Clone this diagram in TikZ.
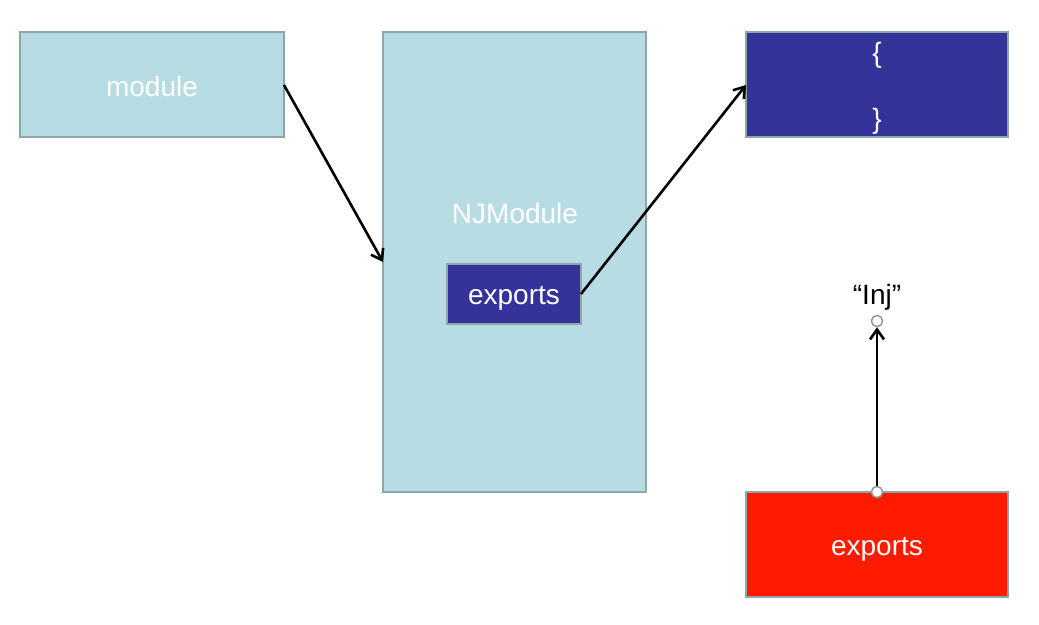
\documentclass[tikz,border=0pt]{standalone}
\usepackage{fontspec}
\setmainfont{Liberation Sans}
\usetikzlibrary{arrows.meta}
\definecolor{lblue}{HTML}{B8DCE3}
\definecolor{dblue}{HTML}{333399}
\definecolor{redc}{HTML}{FF1A00}
\definecolor{edgec}{HTML}{8EA5AC}
\tikzset{
  boxbase/.style={draw=edgec, line width=2pt, inner sep=0pt, outer sep=0pt},
  lightbox/.style={boxbase, fill=lblue},
  darkbox/.style={boxbase, fill=dblue},
  redbox/.style={boxbase, fill=redc},
  conn/.style={draw=black, line width=2.6pt, -{Straight Barb[length=10pt,width=14pt,line width=2.6pt]}},
  dot/.style={circle, draw=gray!80, fill=white, line width=1.4pt, minimum size=11pt, inner sep=0pt},
  lbl/.style={font=\fontsize{28}{32}\selectfont, inner sep=0pt}
}
\begin{document}
\begin{tikzpicture}[x=1pt,y=-1pt]
\useasboundingbox (0,0) rectangle (1039,624);
\node[lightbox, minimum width=264pt, minimum height=105pt] (module) at (152,84.5) {};
\node[lbl, text=white] (modlabel) at (152,86) {module};
\node[lightbox, minimum width=263pt, minimum height=460pt] (nj) at (514.5,262) {};
\node[lbl, text=white] (njlabel) at (515,213) {NJModule};
\node[darkbox, minimum width=134pt, minimum height=60pt] (exp) at (514,294) {};
\node[lbl, text=white] (explabel) at (514,298) {exports};
\node[darkbox, minimum width=262pt, minimum height=105pt] (obj) at (877,84.5) {};
\node[lbl, text=white] (lb) at (877,55) {\{};
\node[lbl, text=white] (rb) at (877,121) {\}};
\node[redbox, minimum width=262pt, minimum height=105pt] (rexp) at (877,544.5) {};
\node[lbl, text=white] (rexplabel) at (877,549) {exports};
\node[lbl, text=black] (inj) at (877,297) {“Inj”};
\coordinate (mr) at (284,85);
\coordinate (njl) at (383,262);
\coordinate (er) at (581,294);
\coordinate (ol) at (746,85);
\node[dot] (d1) at (877,492) {};
\node[dot] (d2) at (877,321) {};
\draw[conn] (mr) -- (njl);
\draw[conn] (er) -- (ol);
\draw[conn] (d1.center) -- (d2.south);
\node[dot] at (877,492) {};
\node[dot] at (877,321) {};
\end{tikzpicture}
\end{document}
